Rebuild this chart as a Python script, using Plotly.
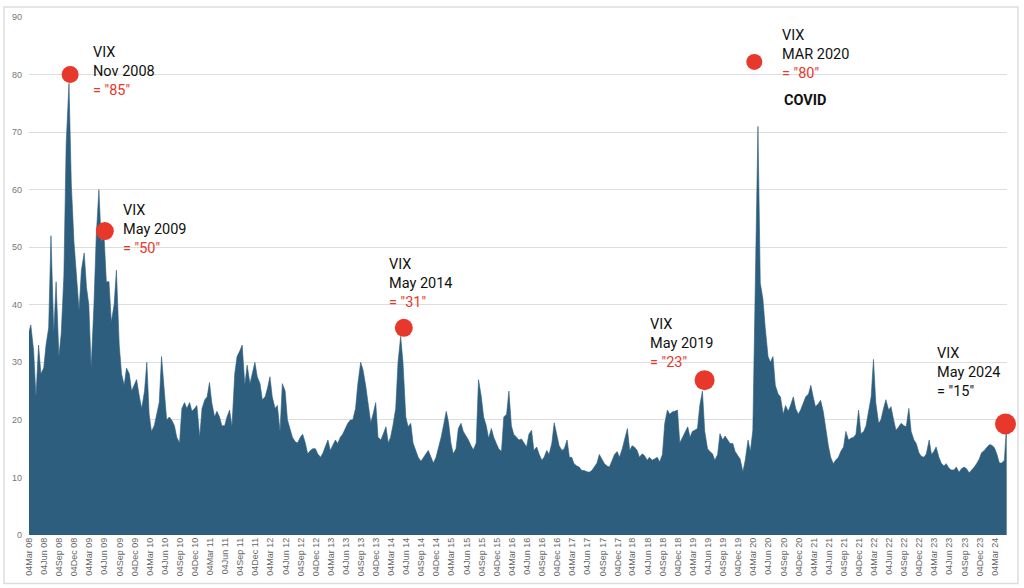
import pandas as pd
import plotly.graph_objects as go

# ---------------- data ----------------
# semi-monthly samples (1st and 15th of each month), Mar 2008 -> mid May 2024
vix_2008 = [35, 36.5, 32, 24, 33, 28, 29, 33, 36, 52, 35, 44, 31, 35, 45, 68, 78.5, 61, 51, 45]
vix_2009 = [39, 46, 49, 43, 40, 29, 40, 52, 60, 51, 52, 44, 44, 37, 40, 46, 33, 28, 26, 29, 28, 25, 26, 27]
vix_2010 = [24, 22, 25, 30, 21, 18, 19, 21, 23, 31, 25, 20, 20.5, 20, 19, 17, 16, 22, 23, 22, 23, 21.5, 22, 22.5]
vix_2011 = [17, 22, 23.5, 24, 26.5, 23, 20.5, 21.5, 20.5, 19, 19, 20.5, 21.7, 18.8, 28, 31, 32, 33, 26, 29.5, 26.3, 28, 30, 27.5]
vix_2012 = [26.3, 23.5, 24, 25.5, 27.5, 24, 22, 22.5, 18, 26.3, 25, 20, 18.5, 17, 16.2, 16, 17, 17.5, 16, 14.1, 14.7, 15, 15, 14.1]
vix_2013 = [13.5, 14.2, 15.5, 16.5, 14.7, 15.5, 16.5, 15.9, 17, 17.5, 18.5, 19.4, 20, 20, 22, 26.3, 30, 28.7, 26, 22.8, 19.5, 21, 23, 17]
vix_2014 = [16.5, 17.5, 18.8, 16, 17, 19, 22, 30, 34.5, 30, 20.5, 18.8, 19.4, 16, 14.5, 13.5, 12.8, 13.5, 14.1, 14.7, 13.5, 12.5, 13.5, 15]
vix_2015 = [17, 19, 21.5, 19.5, 16, 14.1, 15, 18.5, 19.4, 18, 17.2, 16.5, 15.5, 14.8, 16, 27, 24, 20.5, 19, 16.8, 18.5, 17, 15.9, 15]
vix_2016 = [14.5, 20.5, 21, 25, 19, 17.5, 17, 16.5, 16.7, 16, 15.3, 17.5, 18.2, 14.7, 15.3, 14.1, 13, 13.5, 14.7, 14, 16, 19.5, 17, 15.5]
vix_2017 = [14.7, 15, 16.5, 13.5, 13.5, 12.4, 12, 11.8, 11.2, 11.2, 11, 10.9, 11.2, 11.8, 12.5, 14, 13, 12.4, 12, 11.8, 13, 14, 14.5, 13.5]
vix_2018 = [15, 16.5, 18.5, 14.7, 15.5, 15.3, 14.7, 13.5, 14.1, 13.8, 13, 13.5, 13, 13.2, 13.5, 12.7, 14, 19.4, 21.7, 21, 21.4, 21.5, 21.7, 16]
vix_2019 = [17, 17.6, 18.8, 17, 18, 18.2, 18.5, 22.5, 25, 18, 15, 14.5, 14.1, 13, 14, 17.6, 16.5, 17.2, 16.5, 15.9, 15.9, 14.5, 13.8, 13.2]
vix_2020 = [11, 13, 16.5, 14.5, 18.2, 42, 71, 43.8, 41, 36, 31, 30, 31, 26, 24.5, 24, 21, 22.5, 21.5, 22.5, 24, 22, 21, 21.7]
vix_2021 = [22.8, 24, 24.5, 26, 24, 22.3, 22.8, 23.4, 21.5, 18.5, 15.5, 13.5, 12.4, 13, 13.5, 14.5, 15.3, 18, 16.5, 16.8, 17, 17.5, 21.7, 17.6]
vix_2022 = [18, 19, 21.7, 24, 30.5, 23, 19.4, 20, 22, 23.5, 21.7, 22.3, 20, 18.2, 18.8, 19.4, 19, 18.8, 22, 18, 16.5, 15.9, 14.3, 13.7]
vix_2023 = [13.5, 14.1, 16.5, 14, 14.5, 15.3, 13.5, 12.5, 12, 12.4, 11.6, 11.3, 11.3, 11.8, 10.9, 11.5, 11.8, 11.5, 10.8, 11.2, 11.8, 12.4, 13.2, 14.3]
vix_2024 = [14.7, 15.2, 15.7, 15.6, 15.2, 14.2, 12.5, 12.5, 13, 19.4]

vix_values = (vix_2008 + vix_2009 + vix_2010 + vix_2011 + vix_2012 + vix_2013 + vix_2014 +
              vix_2015 + vix_2016 + vix_2017 + vix_2018 + vix_2019 + vix_2020 + vix_2021 +
              vix_2022 + vix_2023 + vix_2024)
vix_dates = pd.date_range("2008-03-01", periods=len(vix_values), freq="SMS")

# highlighted points
marker_dates = ["2008-11-08", "2009-06-06", "2014-05-20", "2019-05-14", "2020-03-10", "2024-05-08"]
marker_values = [80, 52.8, 36, 26.9, 82.2, 19.3]
marker_labels = ["Nov 2008", "May 2009", "May 2014", "May 2019", "MAR 2020", "May 2024"]
marker_quotes = ['= "85"', '= "50"', '= "31"', '= "23"', '= "80"', '= "15"']

# quarterly tick labels (04Mar, 04Jun, 04Sep, 04Dec)
tick_dates = pd.date_range("2008-03-01", "2024-03-01", freq="3MS") + pd.Timedelta(days=3)
tick_text = [d.strftime("%d%b %y") for d in tick_dates]
y_ticks = [0, 10, 20, 30, 40, 50, 60, 70, 80, 90]

# ---------------- style ----------------
FILL = "#2E5E7E"
RED = "#E8382B"
W, H = 1024, 588
ML, MR, MT, MB = 28, 17, 13, 53
PW, PH = W - ML - MR, H - MT - MB


def paper(xp, yp):
    return (xp - ML) / PW, (H - MB - yp) / PH


fig = go.Figure()
fig.add_trace(go.Scatter(
    x=vix_dates, y=vix_values, mode="lines", fill="tozeroy",
    line=dict(color=FILL, width=0.6), fillcolor=FILL, hoverinfo="skip",
))
fig.add_trace(go.Scatter(
    x=marker_dates, y=marker_values, mode="markers", cliponaxis=False,
    marker=dict(color=RED, size=[17, 18, 18, 20, 16, 21], opacity=1, line=dict(width=0)),
    hoverinfo="skip",
))

# text blocks (left px, centre px)
label_pos = [(90, 67.5), (120, 227.5), (386, 282), (648, 342), (780, 50.5), (935, 371)]
quote_colors = [RED, RED, RED, RED, RED, "#111111"]
for (xp, yp), lab, q, qc in zip(label_pos, marker_labels, marker_quotes, quote_colors):
    px_, py_ = paper(xp, yp)
    fig.add_annotation(
        x=px_, y=py_, xref="paper", yref="paper", xanchor="left", yanchor="middle",
        align="left", showarrow=False,
        text=f"VIX<br>{lab}<br><span style='color:{qc}'>{q}</span>",
        font=dict(family="Roboto", size=14.5, color="#111111"),
    )
cx, cy = paper(782, 96.7)
fig.add_annotation(x=cx, y=cy, xref="paper", yref="paper", xanchor="left", yanchor="middle",
                   showarrow=False, text="<b>COVID</b>",
                   font=dict(family="Roboto", size=14.5, color="#111111"))

# outer frame
x0, y0 = paper(3, 584)
x1, y1 = paper(1018, 3)
fig.add_shape(type="rect", xref="paper", yref="paper", x0=x0, y0=y0, x1=x1, y1=y1,
              line=dict(color="#DDDDDD", width=1.5), fillcolor="rgba(0,0,0,0)", layer="below")

fig.update_layout(
    width=W, height=H, margin=dict(l=ML, r=MR, t=MT, b=MB),
    paper_bgcolor="white", plot_bgcolor="white", showlegend=False,
    xaxis=dict(type="date", range=["2008-03-04", "2024-05-17"], tickmode="array",
               tickvals=tick_dates, ticktext=tick_text, tickangle=-90,
               tickfont=dict(family="Liberation Sans", size=9, color="#666666"),
               showgrid=False, zeroline=False, showline=False, ticks=""),
    yaxis=dict(range=[0, 90], tickmode="array", tickvals=y_ticks,
               tickfont=dict(family="Liberation Sans", size=9, color="#777777"),
               showgrid=True, gridcolor="#DDDDDD", gridwidth=1.2, zeroline=False,
               showline=False, ticks="", ticklabelstandoff=6),
)

fig.write_html("out.html")
